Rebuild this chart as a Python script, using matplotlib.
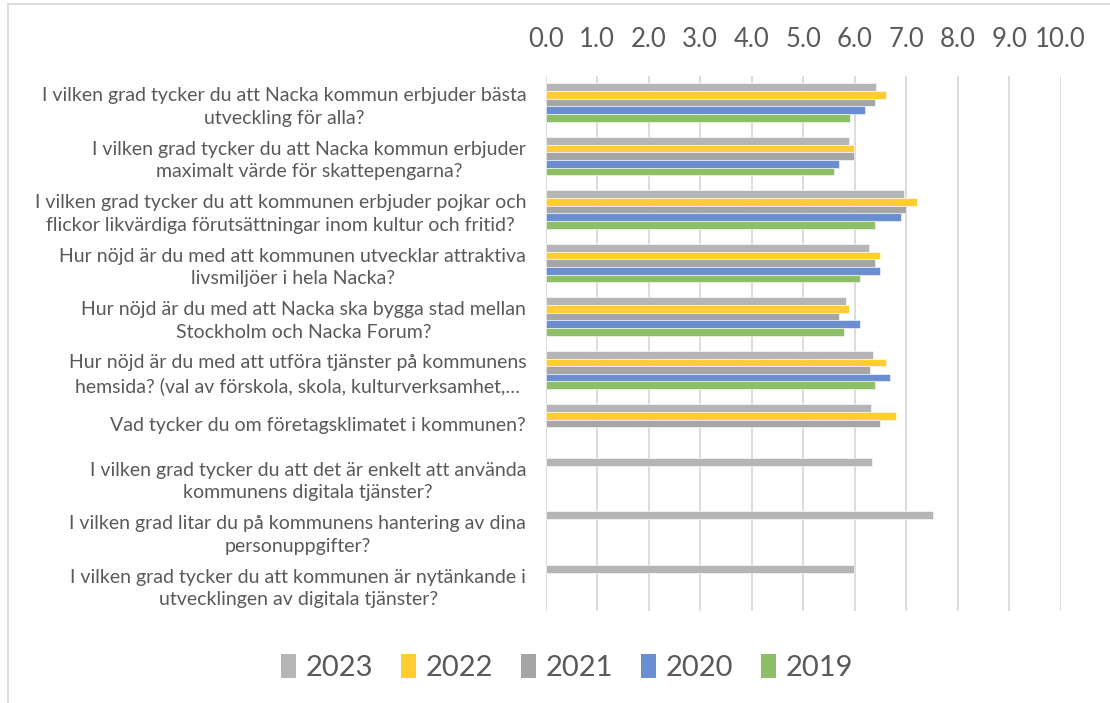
import numpy as np
import matplotlib
matplotlib.use("Agg")
import matplotlib.pyplot as plt
from matplotlib.lines import Line2D
from matplotlib.patches import Patch

plt.rcParams['font.family'] = ['Lato', 'DejaVu Sans']

questions = [
    "I vilken grad tycker du att Nacka kommun erbjuder bästa\nutveckling för alla?",
    "I vilken grad tycker du att Nacka kommun erbjuder\nmaximalt värde för skattepengarna?",
    "I vilken grad tycker du att kommunen erbjuder pojkar och\nflickor likvärdiga förutsättningar inom kultur och fritid?",
    "Hur nöjd är du med att kommunen utvecklar attraktiva\nlivsmiljöer i hela Nacka?",
    "Hur nöjd är du med att Nacka ska bygga stad mellan\nStockholm och Nacka Forum?",
    "Hur nöjd är du med att utföra tjänster på kommunens\nhemsida? (val av förskola, skola, kulturverksamhet,…",
    "Vad tycker du om företagsklimatet i kommunen?",
    "I vilken grad tycker du att det är enkelt att använda\nkommunens digitala tjänster?",
    "I vilken grad litar du på kommunens hantering av dina\npersonuppgifter?",
    "I vilken grad tycker du att kommunen är nytänkande i\nutvecklingen av digitala tjänster?",
]

years = ["2023", "2022", "2021", "2020", "2019"]
nan = np.nan
v2023 = [6.41, 5.88, 6.96, 6.28, 5.84, 6.35, 6.31, 6.34, 7.52, 5.99]
v2022 = [6.60, 5.99, 7.20, 6.49, 5.89, 6.60, 6.80, nan, nan, nan]
v2021 = [6.39, 5.99, 7.00, 6.39, 5.70, 6.30, 6.49, nan, nan, nan]
v2020 = [6.20, 5.70, 6.89, 6.49, 6.10, 6.69, nan, nan, nan, nan]
v2019 = [5.90, 5.59, 6.39, 6.10, 5.79, 6.39, nan, nan, nan, nan]
series = [v2023, v2022, v2021, v2020, v2019]
colors = ["#B5B5B5", "#FFCC33", "#A6A6A6", "#6A8ED0", "#8CBF66"]

fig = plt.figure(figsize=(11.1, 7.03), dpi=100)
ax = fig.add_axes([0.4916, 0.1312, 0.464, 0.761])

y = np.arange(len(questions))
h = 0.143
for j, (vals, col) in enumerate(zip(series, colors)):
    ax.barh(y + (j - 2) * h, vals, height=h, color=col,
            edgecolor="white", linewidth=0.4, zorder=3)

ax.set_ylim(len(questions) - 0.5, -0.5)
ax.set_xlim(0, 10)
ax.set_xticks(np.arange(0, 11, 1))
ax.set_xticklabels([f"{t:.1f}" for t in np.arange(0, 11, 1)])
ax.xaxis.tick_top()
ax.tick_params(axis='x', length=0, pad=17, labelsize=18.5, labelcolor="#595959")
ax.set_yticks(y)
ax.set_yticklabels(questions)
ax.tick_params(axis='y', length=0, pad=14, labelsize=14, labelcolor="#595959")
for lbl in ax.get_yticklabels():
    lbl.set_multialignment('center')
    lbl.set_linespacing(1.4)

ax.grid(axis='x', color="#D9D9D9", linewidth=1.3, zorder=0)
for s in ax.spines.values():
    s.set_visible(False)

handles = [Patch(facecolor=c, edgecolor="none") for c in colors]
fig.legend(handles, years, loc="center", bbox_to_anchor=(0.511, 0.051), ncol=5,
           frameon=False, fontsize=21, handlelength=0.5, handleheight=0.9,
           handletextpad=0.35, columnspacing=0.95, labelcolor="#595959")

# chart border (left and top edges visible)
fig.add_artist(Line2D([0.0075, 0.0075], [0.0, 0.994], transform=fig.transFigure,
                      color="#D9D9D9", linewidth=1.3))
fig.add_artist(Line2D([0.0075, 1.0], [0.994, 0.994], transform=fig.transFigure,
                      color="#D9D9D9", linewidth=1.3))

fig.savefig("out.png", dpi=100, facecolor="white")
